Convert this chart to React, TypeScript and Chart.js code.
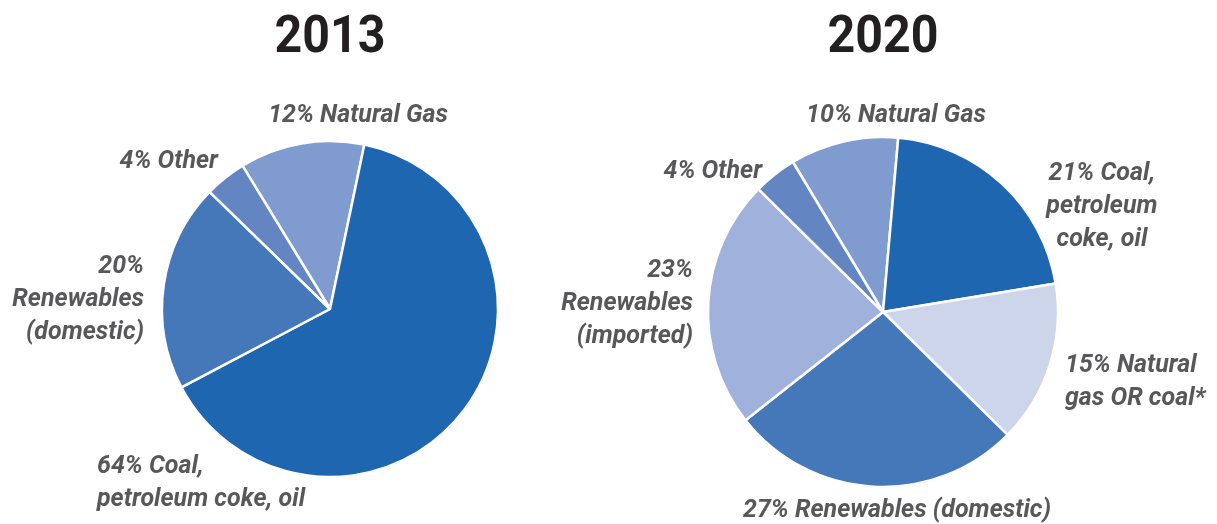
import React, { useEffect, useRef } from "react";
import { Chart, registerables } from "chart.js";

Chart.register(...registerables);

// ---- Data ----
const categories2013 = ["Natural Gas", "Coal, petroleum coke, oil", "Renewables (domestic)", "Other"];
const values2013 = [12, 64, 20, 4];
const labelLines2013 = [
  ["12% Natural Gas"],
  ["64% Coal,", "petroleum coke, oil"],
  ["20%", "Renewables", "(domestic)"],
  ["4% Other"],
];

const categories2020 = [
  "Natural Gas",
  "Coal, petroleum coke, oil",
  "Natural gas OR coal*",
  "Renewables (domestic)",
  "Renewables (imported)",
  "Other",
];
const values2020 = [10, 21, 15, 27, 23, 4];
const labelLines2020 = [
  ["10% Natural Gas"],
  ["21% Coal,", "petroleum", "coke, oil"],
  ["15% Natural", "gas OR coal*"],
  ["27% Renewables (domestic)"],
  ["23%", "Renewables", "(imported)"],
  ["4% Other"],
];

// ---- Styles / layout (not data) ----
const colors2013 = ["#7f9bd0", "#1f66b0", "#4478b9", "#6386c2"];
const colors2020 = ["#7f9bd0", "#1f66b0", "#ccd5ea", "#4478b9", "#a0b2db", "#6386c2"];

// label anchor offsets relative to pie center, in units of radius; baseline of first line
const layout2013 = [
  { dx: 0.167, dy: -1.116, align: "center" },
  { dx: -1.387, dy: 0.978, align: "left" },
  { dx: -1.107, dy: -0.214, align: "right" },
  { dx: -0.667, dy: -0.839, align: "right" },
];
const layout2020 = [
  { dx: 0.074, dy: -1.086, align: "center" },
  { dx: 1.251, dy: -0.754, align: "center" },
  { dx: 1.04, dy: 0.341, align: "left" },
  { dx: 0.08, dy: 1.171, align: "center" },
  { dx: -1.086, dy: -0.202, align: "right" },
  { dx: -0.691, dy: -0.764, align: "right" },
];

const pieLabelsPlugin = {
  id: "pieLabels",
  afterDraw(chart: any, _args: any, opts: any) {
    const meta = chart.getDatasetMeta(0);
    if (!meta.data.length) return;
    const arc = meta.data[0];
    const cx = arc.x;
    const cy = arc.y;
    const r = arc.outerRadius;
    const ctx = chart.ctx as CanvasRenderingContext2D;
    ctx.save();
    // title
    ctx.fillStyle = "#231f20";
    ctx.font = "bold 52px Roboto";
    ctx.textAlign = "center";
    ctx.textBaseline = "alphabetic";
    ctx.save();
    ctx.translate(cx, opts.titleBaseline);
    ctx.scale(0.93, 1);
    ctx.fillText(opts.title, 0, 0);
    ctx.restore();
    // labels
    ctx.fillStyle = "#58585a";
    ctx.font = "italic bold 25px Roboto";
    const lines: string[][] = opts.lines;
    const layout: any[] = opts.layout;
    lines.forEach((ls, i) => {
      const L = layout[i];
      const x = cx + L.dx * r;
      let y = cy + L.dy * r;
      ctx.textAlign = L.align;
      ls.forEach((t) => {
        ctx.fillText(t, x, y);
        y += 33;
      });
    });
    ctx.restore();
  },
};

function PieCanvas(props: {
  categories: string[];
  values: number[];
  colors: string[];
  rotation: number;
  radius: number;
  padding: any;
  title: string;
  lines: string[][];
  layout: any[];
}) {
  const ref = useRef<HTMLCanvasElement | null>(null);
  useEffect(() => {
    if (!ref.current) return;
    const chart = new Chart(ref.current, {
      type: "pie",
      data: {
        labels: props.categories,
        datasets: [
          {
            data: props.values,
            backgroundColor: props.colors,
            borderColor: "#ffffff",
            borderWidth: 2.5,
          },
        ],
      },
      options: {
        responsive: false,
        animation: false,
        rotation: props.rotation,
        radius: props.radius,
        layout: { padding: props.padding },
        plugins: {
          legend: { display: false },
          tooltip: { enabled: false },
          title: { display: false },
          pieLabels: {
            title: props.title,
            titleBaseline: 52,
            lines: props.lines,
            layout: props.layout,
          },
        } as any,
      } as any,
      plugins: [pieLabelsPlugin],
    });
    return () => chart.destroy();
  }, []);
  return (
    <canvas
      ref={ref}
      width={1217}
      height={524}
      style={{ position: "absolute", left: 0, top: 0, width: 1217, height: 524 }}
    />
  );
}

export default function App() {
  return (
    <div style={{ position: "fixed", left: 0, top: 0, width: 1217, height: 524, background: "#fff" }}>
      <PieCanvas
        categories={categories2013}
        values={values2013}
        colors={colors2013}
        rotation={-31.4}
        radius={168}
        padding={{ left: 0, right: 557, top: 94, bottom: 0 }}
        title="2013"
        lines={labelLines2013}
        layout={layout2013}
      />
      <PieCanvas
        categories={categories2020}
        values={values2020}
        colors={colors2020}
        rotation={-31}
        radius={175}
        padding={{ left: 549, right: 0, top: 100, bottom: 0 }}
        title="2020"
        lines={labelLines2020}
        layout={layout2020}
      />
    </div>
  );
}
